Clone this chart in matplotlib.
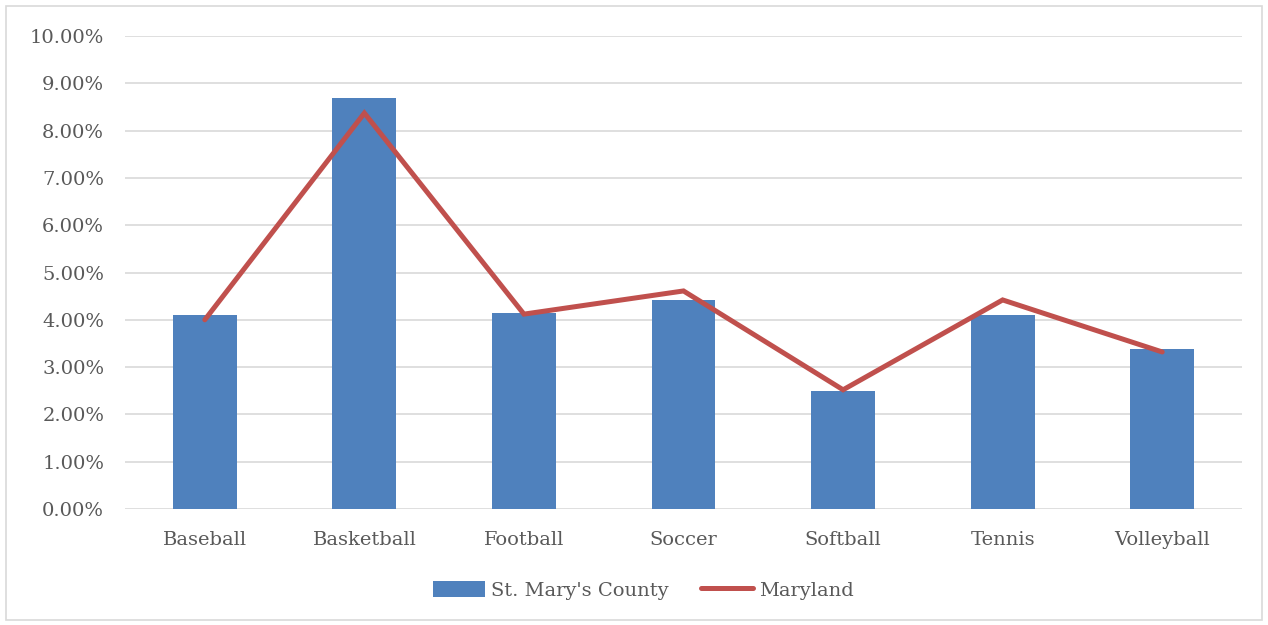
import numpy as np
import matplotlib.pyplot as plt
from matplotlib.ticker import PercentFormatter
from matplotlib.patches import Rectangle

plt.rcParams['font.family'] = ['DejaVu Serif']

sports = ['Baseball', 'Basketball', 'Football', 'Soccer', 'Softball', 'Tennis', 'Volleyball']
county = [0.0410, 0.0869, 0.0414, 0.0442, 0.0249, 0.0410, 0.0338]
maryland = [0.0400, 0.0837, 0.0412, 0.0461, 0.0252, 0.0442, 0.0332]

txt = '#595959'
fig = plt.figure(figsize=(12.68, 6.25), dpi=100)
ax = fig.add_axes([0.0986, 0.1856, 0.8809, 0.7568])

x = np.arange(len(sports))
bars = ax.bar(x, county, width=0.4, color='#4F81BD', label="St. Mary's County", zorder=2)
line, = ax.plot(x, maryland, color='#C0504D', lw=3.6, solid_capstyle='round',
                solid_joinstyle='miter', label='Maryland', zorder=3)

ax.set_xlim(-0.5, len(sports) - 0.5)
ax.set_ylim(0, 0.10)
ax.set_yticks(np.arange(0, 0.1001, 0.01))
ax.yaxis.set_major_formatter(PercentFormatter(1.0, decimals=2))
ax.set_xticks(x)
ax.set_xticklabels(sports)
ax.grid(axis='y', color='#d9d9d9', lw=1.2, zorder=0)
for s in ax.spines.values():
    s.set_visible(False)
ax.tick_params(length=0, labelsize=14, colors=txt)
ax.tick_params(axis='y', pad=15)
ax.tick_params(axis='x', pad=16)

leg = ax.legend([bars, line], ["St. Mary's County", 'Maryland'], loc='upper center',
                bbox_to_anchor=(0.464, -0.115), ncol=2, frameon=False,
                fontsize=14, handlelength=2.7, handleheight=0.9, columnspacing=1.65, handletextpad=0.3)
for t in leg.get_texts():
    t.set_color(txt)

fig.patches.append(Rectangle((0.005, 0.008), 0.99, 0.983, transform=fig.transFigure,
                             fill=False, edgecolor='#d9d9d9', lw=1.2))

fig.savefig('out.png', dpi=100)
